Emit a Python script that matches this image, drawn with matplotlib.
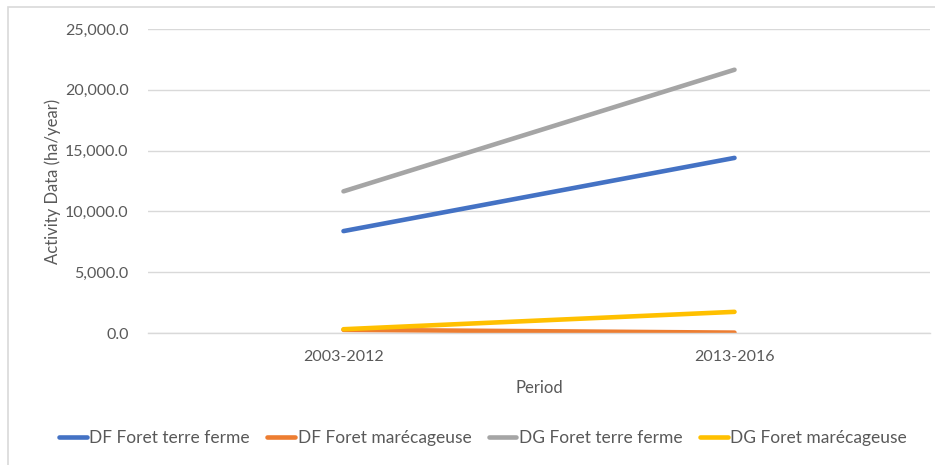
import matplotlib
matplotlib.use("Agg")
import matplotlib.pyplot as plt
from matplotlib.patches import Rectangle
from matplotlib.ticker import FuncFormatter, MultipleLocator

periods = ["2003-2012", "2013-2016"]
df_terre_ferme = [8380, 14400]
df_marecageuse = [260, 30]
dg_terre_ferme = [11650, 21650]
dg_marecageuse = [310, 1740]

series_names = ["DF Foret terre ferme", "DF Foret marécageuse",
                "DG Foret terre ferme", "DG Foret marécageuse"]
series_values = [df_terre_ferme, df_marecageuse, dg_terre_ferme, dg_marecageuse]
colors = ["#4472C4", "#ED7D31", "#A5A5A5", "#FFC000"]

plt.rcParams['font.family'] = ['Lato', 'DejaVu Sans']
txt = "#595959"

W, H = 935, 465
fig = plt.figure(figsize=(W / 100, H / 100), dpi=100)
fig.patches.append(Rectangle((8 / W, -0.5), 2, 1.5 - 7 / H, transform=fig.transFigure,
                             fill=False, edgecolor="#D9D9D9", linewidth=1.2))

ax = fig.add_axes([148 / W, 1 - 333 / H, (930 - 148) / W, (333 - 29) / H])
x = list(range(len(periods)))
for name, vals, c in zip(series_names, series_values, colors):
    ax.plot(x, vals, color=c, linewidth=3.3, label=name, solid_capstyle="round")

ax.set_xlim(-0.5, len(periods) - 0.5)
ax.set_ylim(0, 25000)
ax.yaxis.set_major_locator(MultipleLocator(5000))
ax.yaxis.set_major_formatter(FuncFormatter(lambda v, p: f"{v:,.1f}"))
ax.set_xticks(x)
ax.set_xticklabels(periods)
ax.grid(axis="y", color="#D9D9D9", linewidth=1)
ax.set_axisbelow(True)
for s in ["top", "right", "left"]:
    ax.spines[s].set_visible(False)
ax.spines["bottom"].set_color("#D9D9D9")
ax.spines["bottom"].set_linewidth(1)
ax.tick_params(axis="both", length=0, colors=txt, labelsize=11.5)
ax.tick_params(axis="x", pad=12)
ax.tick_params(axis="y", pad=14)
ax.set_xlabel("Period", color=txt, fontsize=12, labelpad=12)
ax.set_ylabel("Activity Data (ha/year)", color=txt, fontsize=12, labelpad=3)

leg = fig.legend(loc="center", bbox_to_anchor=(483 / W, 1 - 438 / H), ncol=4,
                 frameon=False, fontsize=12.5, handlelength=1.6, handletextpad=0.15,
                 columnspacing=1.0, labelcolor=txt)

fig.savefig("out.png", dpi=100)
